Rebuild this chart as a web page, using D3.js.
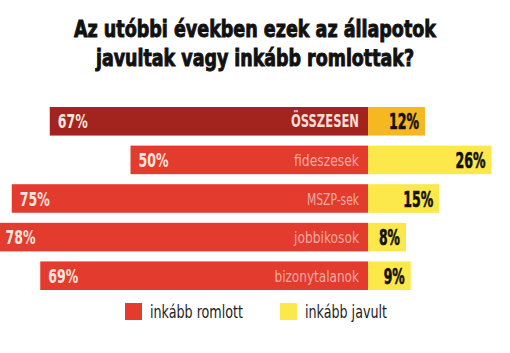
<!DOCTYPE html>
<html>
<head>
<meta charset="utf-8">
<script src="https://cdn.jsdelivr.net/npm/d3@7"></script>
<style>
  body { margin: 0; background: #fff; }
  svg { display: block; }
  .title { font-family: 'DejaVu Sans Condensed', 'Liberation Sans Narrow', sans-serif; font-weight: bold; fill: #111; stroke: #111; stroke-width: 0.9; }
  .pct { font-family: 'DejaVu Sans Condensed', sans-serif; font-weight: bold; }
  .cat { font-family: 'DejaVu Sans Condensed', sans-serif; }
  .legend text { font-family: 'DejaVu Sans Condensed', sans-serif; fill: #222; }
</style>
</head>
<body>
<div id="chart"></div>
<script>
const titleLines = ['Az utóbbi években ezek az állapotok', 'javultak vagy inkább romlottak?'];
const categories = ['ÖSSZESEN', 'fideszesek', 'MSZP-sek', 'jobbikosok', 'bizonytalanok'];
const worse = [67, 50, 75, 78, 69];
const better = [12, 26, 15, 8, 9];
const legendLabels = ['inkább romlott', 'inkább javult'];

const width = 510;
const height = 353;
const center = 368;
const pxPerPct = 4.75;

const svg = d3.select('#chart')
  .append('svg')
  .attr('width', width)
  .attr('height', height);

// title
svg.selectAll('text.title')
  .data(titleLines)
  .enter()
  .append('text')
  .attr('class', 'title')
  .attr('x', 255)
  .attr('y', (d, i) => 37 + i * 29)
  .attr('text-anchor', 'middle')
  .attr('font-size', 23)
  .attr('textLength', (d, i) => i === 0 ? 362 : 318)
  .attr('lengthAdjust', 'spacingAndGlyphs')
  .text(d => d);

const xLeft = d3.scaleLinear()
  .domain([0, 100])
  .range([center, center - 100 * pxPerPct]);

const xRight = d3.scaleLinear()
  .domain([0, 100])
  .range([center, center + 100 * pxPerPct]);

const y = d3.scaleBand()
  .domain(categories)
  .range([107, 290])
  .paddingInner(0.26)
  .paddingOuter(0);

const rows = categories.map((c, i) => ({ cat: c, worse: worse[i], better: better[i], total: i === 0 }));

const row = svg.append('g')
  .attr('class', 'rows')
  .selectAll('g')
  .data(rows)
  .enter()
  .append('g');

row.append('rect')
  .attr('x', d => xLeft(d.worse))
  .attr('y', d => y(d.cat))
  .attr('width', d => xLeft(0) - xLeft(d.worse))
  .attr('height', y.bandwidth())
  .attr('fill', d => d.total ? '#a3241e' : '#e33b2e');

row.append('rect')
  .attr('x', xRight(0))
  .attr('y', d => y(d.cat))
  .attr('width', d => xRight(d.better) - xRight(0))
  .attr('height', y.bandwidth())
  .attr('fill', d => d.total ? '#f5b820' : '#fce84a');

// red percentages
row.append('text')
  .attr('class', 'pct')
  .attr('x', d => xLeft(d.worse) + 8)
  .attr('y', d => y(d.cat) + y.bandwidth() / 2 + 7)
  .attr('font-size', 19)
  .attr('textLength', 30)
  .attr('lengthAdjust', 'spacingAndGlyphs')
  .attr('fill', '#fbe6df')
  .text(d => d.worse + '%');

// category names
row.append('text')
  .attr('class', 'cat')
  .attr('x', center - 9)
  .attr('y', d => y(d.cat) + y.bandwidth() / 2 + 6)
  .attr('text-anchor', 'end')
  .attr('font-size', d => d.total ? 17 : 15)
  .attr('font-weight', d => d.total ? 'bold' : 'normal')
  .attr('textLength', d => d.total ? 68 : d.cat.length * 6.5)
  .attr('lengthAdjust', 'spacingAndGlyphs')
  .attr('fill', d => d.total ? '#f6ddd8' : '#f5aaa0')
  .text(d => d.cat);

// yellow percentages
row.append('text')
  .attr('class', 'pct')
  .attr('x', d => xRight(d.better) - 6)
  .attr('y', d => y(d.cat) + y.bandwidth() / 2 + 8)
  .attr('text-anchor', 'end')
  .attr('font-size', 21)
  .attr('textLength', d => String(d.better).length === 1 ? 21 : 30)
  .attr('lengthAdjust', 'spacingAndGlyphs')
  .attr('fill', '#111')
  .attr('stroke', '#111')
  .attr('stroke-width', 0.6)
  .text(d => d.better + '%');

// legend
const legend = svg.append('g')
  .attr('class', 'legend')
  .selectAll('g')
  .data(legendLabels)
  .enter()
  .append('g')
  .attr('transform', (d, i) => `translate(${i === 0 ? 125 : 280},303)`);

legend.append('rect')
  .attr('width', 17)
  .attr('height', 17)
  .attr('fill', (d, i) => i === 0 ? '#e33b2e' : '#fce84a');

legend.append('text')
  .attr('x', 25)
  .attr('y', 15)
  .attr('font-size', 17)
  .attr('textLength', (d, i) => i === 0 ? 93 : 82)
  .attr('lengthAdjust', 'spacingAndGlyphs')
  .text(d => d);
</script>
</body>
</html>
